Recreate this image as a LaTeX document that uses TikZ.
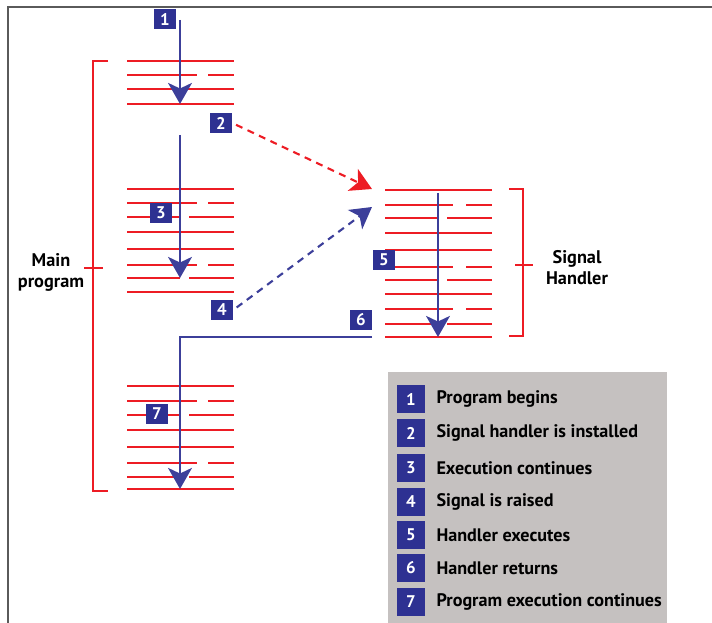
\documentclass[tikz,border=0pt]{standalone}
\usepackage{fontspec}
\setmainfont{PT Sans}
\usetikzlibrary{arrows.meta,positioning}
\definecolor{codered}{HTML}{ED1C24}
\definecolor{numblue}{HTML}{2E3192}
\definecolor{flowblue}{HTML}{3C3F9A}
\definecolor{leggray}{HTML}{C5C1C0}
\definecolor{framegray}{HTML}{5A5A5A}
\tikzset{
    node distance =7.5pt,
    num/.style ={fill=numblue, text=white, font=\bfseries\fontsize{12}{12}\selectfont, inner sep=0pt,
                 minimum width=15.6pt, minimum height=14.9pt},
    legnum/.style ={num, minimum width=20.5pt, minimum height=19.8pt},
    legtxt/.style ={inner sep=0pt, font=\bfseries\fontsize{12.9}{15}\selectfont},
    code/.style ={codered, line width=1.8pt},
    flow/.style ={flowblue, line width=1.5pt, -{Stealth[length=15pt,width=17pt,inset=4pt]}},
    signal/.style ={flow, dash pattern=on 5pt off 4pt},
    bracket/.style ={codered, line width=1.6pt},
    lbl/.style ={align=center, font=\bfseries\fontsize{13}{15}\selectfont}
}

\begin{document}
\begin{tikzpicture}[x=0.025cm, y=-0.025cm]
  \useasboundingbox (0,0) rectangle (712,623);
  \draw[framegray, line width=1.2pt] (8,623) -- (8,7) -- (712,7);

  % main program, first part
  \foreach \y in {61,89,104} \draw[code] (127,\y) -- (234,\y);
  \draw[code] (127,75) -- (197,75) (208,75) -- (234,75);

  % main program, second part
  \foreach \y in {189,232,249,292} \draw[code] (127,\y) -- (234,\y);
  \foreach \y in {203,265} \draw[code] (127,\y) -- (197,\y) (208,\y) -- (234,\y);
  \foreach \y in {217,278} \draw[code] (127,\y) -- (180,\y) (189,\y) -- (234,\y);

  % main program, third part
  \foreach \y in {386,430,447,489} \draw[code] (127,\y) -- (234,\y);
  \foreach \y in {401,463} \draw[code] (127,\y) -- (197,\y) (208,\y) -- (234,\y);
  \foreach \y in {415,477} \draw[code] (127,\y) -- (180,\y) (189,\y) -- (234,\y);

  % signal handler
  \foreach \y in {190,233,250,294,337} \draw[code] (385,\y) -- (492,\y);
  \foreach \y in {205,267,309} \draw[code] (385,\y) -- (453,\y) (466,\y) -- (492,\y);
  \foreach \y in {218,280,324} \draw[code] (385,\y) -- (437,\y) (447,\y) -- (492,\y);

  % brackets
  \draw[bracket] (108,61) -- (93,61) -- (93,491) -- (108,491);
  \draw[bracket] (84,268) -- (103,268);
  \draw[bracket] (509,189) -- (523,189) -- (523,336) -- (509,336);
  \draw[bracket] (515,265) -- (533,265);

  \node[lbl] (mainlbl) at (51,272) {Main\\program};
  \node[lbl] (handlbl) at (577,268) {Signal\\Handler};

  % step markers
  \node[num] (n1) at (165,19) {1};
  \node[num] (n2) at (221,123) {2};
  \node[num] (n3) at (161,213) {3};
  \node[num] (n4) at (222,310) {4};
  \node[num] (n5) at (384,260) {5};
  \node[num] (n6) at (361,320) {6};
  \node[num] (n7) at (157,414) {7};

  \coordinate (s1) at (180,20);
  \coordinate (e1) at (180,104);
  \coordinate (s3) at (180,135);
  \coordinate (e3) at (180,278);
  \coordinate (redtip) at (372,189);
  \coordinate (bluetip) at (372,207);
  \coordinate (s5) at (438,193);
  \coordinate (e5) at (438,337);
  \coordinate (ret) at (372,337);
  \coordinate (bend) at (180,337);
  \coordinate (e7) at (180,489);

  \draw[flow] (s1) -- (e1);
  \draw[flow] (s3) -- (e3);
  \draw[signal, codered, shorten <=3pt] (n2.east) -- (redtip);
  \draw[signal, shorten <=3pt] (n4.east) -- (bluetip);
  \draw[flow] (s5) -- (e5);
  \draw[flow] (ret) -- (bend) -- (e7);

  % legend
  \fill[leggray] (388,372) rectangle (667,623);
  \node[legnum] (l1) at (411,399) {1};
  \node[legnum] (l2) at (411,433) {2};
  \node[legnum] (l3) at (411,468) {3};
  \node[legnum] (l4) at (411,502) {4};
  \node[legnum] (l5) at (411,535) {5};
  \node[legnum] (l6) at (411,568) {6};
  \node[legnum] (l7) at (411,602) {7};
  \node[legtxt] (t1) [right =of l1] {Program begins};
  \node[legtxt] (t2) [right =of l2] {Signal handler is installed};
  \node[legtxt] (t3) [right =of l3] {Execution continues};
  \node[legtxt] (t4) [right =of l4] {Signal is raised};
  \node[legtxt] (t5) [right =of l5] {Handler executes};
  \node[legtxt] (t6) [right =of l6] {Handler returns};
  \node[legtxt] (t7) [right =of l7] {Program execution continues};
\end{tikzpicture}
\end{document}
